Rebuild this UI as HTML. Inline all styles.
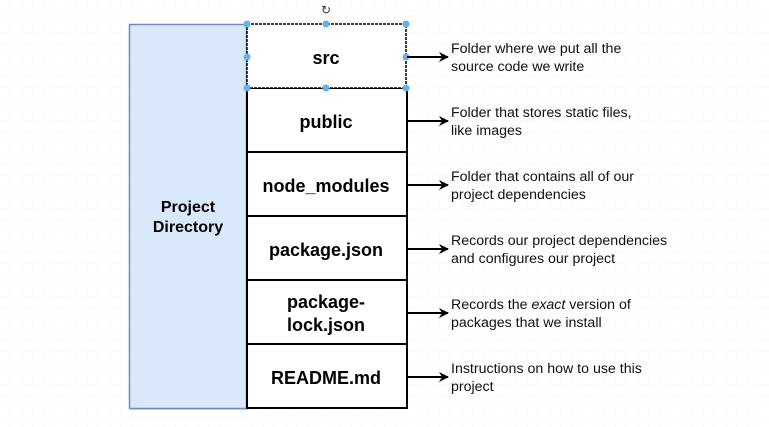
<!DOCTYPE html>
<html><head><meta charset="utf-8"><style>
html,body{margin:0;padding:0;width:769px;height:427px;overflow:hidden;background:#fff}
svg{display:block}
text{font-family:"Liberation Sans",Arial,sans-serif}
</style></head><body>
<svg width="769" height="427" viewBox="0 0 769 427" xmlns="http://www.w3.org/2000/svg">
<defs>
<pattern id="g" width="11" height="11" patternUnits="userSpaceOnUse"><path d="M11 0V11M0 11H11" stroke="#f1f3f6" stroke-width="1" fill="none"/></pattern>
<marker id="a" markerWidth="10" markerHeight="10" refX="9" refY="5" orient="auto" markerUnits="userSpaceOnUse"><path d="M0,0 L10,5 L0,10 L3,5 Z" fill="#000"/></marker>
</defs>
<rect width="769" height="427" fill="url(#g)"/>
<rect x="131" y="26" width="118" height="384" fill="#999" opacity="0.35"/>
<rect x="129.5" y="24.5" width="117" height="384" fill="#dae8fc" stroke="#6c8ebf" stroke-width="1.5"/>
<text x="188" y="212" font-size="16" font-weight="bold" text-anchor="middle">Project</text>
<text x="188" y="232" font-size="16" font-weight="bold" text-anchor="middle">Directory</text>
<g stroke="#000" stroke-width="2" fill="#fff">
<rect x="247" y="88" width="160" height="64"/>
<rect x="247" y="152" width="160" height="64"/>
<rect x="247" y="216" width="160" height="64"/>
<rect x="247" y="280" width="160" height="64"/>
<rect x="247" y="344" width="160" height="64"/>
</g>
<rect x="247" y="24" width="159" height="64" fill="#fff" stroke="#000" stroke-width="1.5" stroke-dasharray="3,1"/>
<g fill="#6ab0e8">
<circle cx="247" cy="24" r="3.5"/><circle cx="326" cy="24" r="3.5"/><circle cx="406" cy="24" r="3.5"/>
<circle cx="247" cy="57" r="3.5"/><circle cx="406" cy="57" r="3.5"/>
<circle cx="247" cy="88" r="3.5"/><circle cx="326" cy="88" r="3.5"/><circle cx="406" cy="88" r="3.5"/>
</g>
<text x="326" y="14" font-size="12" text-anchor="middle" fill="#333">↻</text>
<g font-size="18" font-weight="bold" text-anchor="middle">
<text x="326" y="64">src</text>
<text x="326" y="128">public</text>
<text x="326" y="192">node_modules</text>
<text x="326" y="256">package.json</text>
<text x="326" y="308">package-</text>
<text x="326" y="331">lock.json</text>
<text x="326" y="384">README.md</text>
</g>
<g stroke="#000" stroke-width="2" marker-end="url(#a)">
<line x1="407" y1="57" x2="448" y2="57"/>
<line x1="407" y1="121" x2="448" y2="121"/>
<line x1="407" y1="185" x2="448" y2="185"/>
<line x1="407" y1="249" x2="448" y2="249"/>
<line x1="407" y1="313" x2="448" y2="313"/>
<line x1="407" y1="377" x2="448" y2="377"/>
</g>
<g font-size="14.2" fill="#111">
<text x="451" y="53">Folder where we put all the</text>
<text x="451" y="71">source code we write</text>
<text x="451" y="117">Folder that stores static files,</text>
<text x="451" y="135">like images</text>
<text x="451" y="181">Folder that contains all of our</text>
<text x="451" y="199">project dependencies</text>
<text x="451" y="245">Records our project dependencies</text>
<text x="451" y="263">and configures our project</text>
<text x="451" y="309">Records the <tspan font-style="italic">exact</tspan> version of</text>
<text x="451" y="327">packages that we install</text>
<text x="451" y="373">Instructions on how to use this</text>
<text x="451" y="391">project</text>
</g>
</svg>
</body></html>
